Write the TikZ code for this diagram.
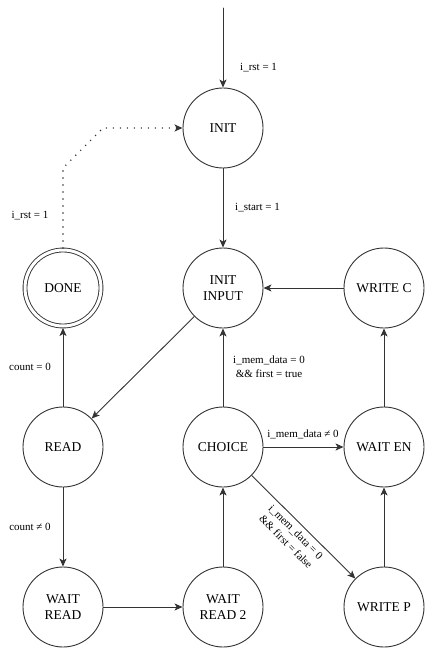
\documentclass[tikz,border=0pt]{standalone}
\usepackage{fontspec}
\setmainfont{Liberation Serif}
\usetikzlibrary{arrows.meta}
\tikzset{
	state/.style={circle,draw=black!80,line width=0.9pt,minimum size=80pt,inner sep=0pt,align=center,font=\fontsize{13.5}{16}\selectfont},
	accept/.style={state,double,double distance=3pt,minimum size=76pt,outer sep=2pt},
	lbl/.style={font=\fontsize{11}{14}\selectfont,align=center,inner sep=1pt},
	trans/.style={draw=black!80,line width=0.9pt,-{Stealth[length=8pt,width=7pt,inset=2pt]}}
}

\begin{document}
\begin{tikzpicture}[line cap=round,line join=round,x=1pt,y=-1pt]
		\useasboundingbox (0,0) rectangle (435,660);
		% states
		\node[state] (init) at (223,128) {INIT};
		\node[state] (initin) at (223,288) {INIT\\INPUT};
		\node[state] (writec) at (384,288) {WRITE C};
		\node[accept] (done) at (63,288) {DONE};
		\node[state] (read) at (63,447) {READ};
		\node[state] (choice) at (223,447) {CHOICE};
		\node[state] (waiten) at (384,447) {WAIT EN};
		\node[state] (waitrd) at (63,607) {WAIT\\READ};
		\node[state] (waitrd2) at (223,607) {WAIT\\READ 2};
		\node[state] (writep) at (384,607) {WRITE P};
		\coordinate (start) at (223,8);
		% transitions
		\draw[trans] (start) -- (init);
		\draw[trans] (init) -- (initin);
		\draw[trans] (writec) -- (initin);
		\draw[trans] (initin) -- (read);
		\draw[trans] (read) -- (done);
		\draw[trans] (read) -- (waitrd);
		\draw[trans] (waitrd) -- (waitrd2);
		\draw[trans] (waitrd2) -- (choice);
		\draw[trans] (choice) -- (initin);
		\draw[trans] (choice) -- (waiten);
		\draw[trans] (choice) -- (writep);
		\draw[trans] (writep) -- (waiten);
		\draw[trans] (waiten) -- (writec);
		\draw[trans,line width=1.6pt,dash pattern=on 0pt off 7pt] (done.north) -- ++(0,-80) -- ++(40,-40) -- (init);
		% labels
		\node[lbl,anchor=west] (lrst) at (239,68) {i\_rst = 1};
		\node[lbl,anchor=west] (lstart) at (234,208) {i\_start = 1};
		\node[lbl] (lrst2) at (30,216) {i\_rst = 1};
		\node[lbl] (lcnt0) at (30,367) {count = 0};
		\node[lbl] (lcnt1) at (30,527) {count ≠ 0};
		\node[lbl] (ltrue) at (269,367) {i\_mem\_data = 0\\\&\& first = true};
		\node[lbl] (lne) at (303,434) {i\_mem\_data ≠ 0};
		\node[lbl,rotate=-45] (lfalse) at (291,537) {i\_mem\_data = 0\\\&\& first = false};
\end{tikzpicture}
\end{document}
